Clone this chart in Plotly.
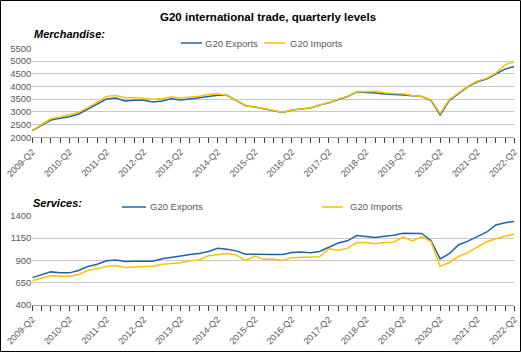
import plotly.graph_objects as go

# ---------------- data ----------------
years = list(range(2009, 2023))
quarters = []
for y in years:
    for q in ["Q1", "Q2", "Q3", "Q4"]:
        quarters.append(f"{y}-{q}")
quarters = quarters[1:quarters.index("2022-Q2") + 1]  # 2009-Q2 .. 2022-Q2

merch_exports = [2260, 2480, 2680, 2750, 2810, 2915, 3115, 3320, 3505, 3545,
                 3430, 3455, 3455, 3390, 3430, 3520, 3470, 3510, 3550, 3615,
                 3655, 3650, 3450, 3240, 3190, 3125, 3060, 2980, 3070, 3110,
                 3150, 3265, 3355, 3485, 3600, 3785, 3770, 3745, 3705, 3695,
                 3665, 3630, 3600, 3450, 2880, 3450, 3705, 3990, 4185, 4290,
                 4485, 4680, 4785]
merch_imports = [2275, 2510, 2730, 2800, 2880, 2980, 3170, 3400, 3610, 3640,
                 3560, 3565, 3545, 3500, 3530, 3580, 3550, 3580, 3615, 3680,
                 3715, 3645, 3455, 3230, 3195, 3130, 3065, 2985, 3075, 3115,
                 3160, 3280, 3370, 3500, 3620, 3800, 3790, 3815, 3750, 3725,
                 3710, 3640, 3605, 3480, 2940, 3490, 3740, 4010, 4210, 4320,
                 4525, 4850, 4980]
serv_exports = [705, 737, 770, 760, 759, 785, 830, 856, 896, 904,
                886, 889, 889, 889, 918, 937, 948, 965, 978, 1000,
                1037, 1026, 1007, 970, 967, 967, 967, 967, 989, 993,
                985, 1000, 1044, 1096, 1120, 1180, 1168, 1157, 1172, 1183,
                1205, 1204, 1204, 1124, 917, 976, 1076, 1117, 1165, 1217,
                1298, 1324, 1339]
serv_imports = [671, 700, 730, 722, 722, 741, 789, 804, 830, 841,
                819, 826, 833, 833, 856, 867, 874, 895, 904, 952,
                963, 978, 959, 900, 948, 911, 911, 900, 930, 933,
                941, 941, 1030, 1015, 1035, 1100, 1100, 1087, 1102, 1105,
                1165, 1120, 1165, 1113, 832, 876, 946, 987, 1050, 1109,
                1143, 1172, 1198]

merch_ticks = [2000, 2500, 3000, 3500, 4000, 4500, 5000, 5500]
serv_ticks = [400, 650, 900, 1150, 1400]
series_names = ["G20 Exports", "G20 Imports"]

# ---------------- style ----------------
W, H = 521, 352
BLUE = "#1F64A6"
YELLOW = "#FFC000"
GRID = "#C8C8C8"
TXT = "#595959"
FONT = "Liberation Sans, Arial, sans-serif"


def px(x):
    return x / W


def py(y):
    return 1 - y / H


idx = list(range(len(quarters)))
ticktext = [q if q.endswith("Q2") and (i % 4 == 0) else "" for i, q in enumerate(quarters)]

fig = go.Figure()
fig.add_trace(go.Scatter(x=idx, y=merch_exports, mode="lines", name=series_names[0],
                         line=dict(color=BLUE, width=1.5), xaxis="x", yaxis="y", showlegend=False))
fig.add_trace(go.Scatter(x=idx, y=merch_imports, mode="lines", name=series_names[1],
                         line=dict(color=YELLOW, width=1.5), xaxis="x", yaxis="y", showlegend=False))
fig.add_trace(go.Scatter(x=idx, y=serv_exports, mode="lines", name=series_names[0],
                         line=dict(color=BLUE, width=1.5), xaxis="x2", yaxis="y2", showlegend=False))
fig.add_trace(go.Scatter(x=idx, y=serv_imports, mode="lines", name=series_names[1],
                         line=dict(color=YELLOW, width=1.5), xaxis="x2", yaxis="y2", showlegend=False))

xdom = [px(32.3), px(514.3)]
xcommon = dict(domain=xdom, range=[0, len(quarters) - 1], tickmode="array",
               tickvals=idx, ticktext=ticktext, tickangle=-45, ticks="outside",
               ticklen=5, tickwidth=1, tickcolor="#404040", showline=True,
               linecolor="#A6A6A6", linewidth=1, showgrid=False, zeroline=False,
               automargin=False,
               tickfont=dict(family=FONT, size=9, color=TXT), fixedrange=True)
ycommon = dict(showgrid=True, gridcolor=GRID, gridwidth=1, zeroline=False,
               showline=False, ticks="", automargin=False,
               tickfont=dict(family=FONT, size=9.5, color=TXT), fixedrange=True)

fig.update_layout(
    width=W, height=H, autosize=False,
    margin=dict(l=0, r=0, t=0, b=0, pad=0),
    paper_bgcolor="white", plot_bgcolor="white",
    xaxis=dict(**xcommon, anchor="y"),
    yaxis=dict(**ycommon, domain=[py(137.3), py(48.3)], range=[2000, 5500],
               tickmode="array", tickvals=merch_ticks, anchor="x"),
    xaxis2=dict(**xcommon, anchor="y2"),
    yaxis2=dict(**ycommon, domain=[py(304.7), py(216)], range=[400, 1400],
                tickmode="array", tickvals=serv_ticks, anchor="x2"),
    font=dict(family=FONT),
)

annotations = [
    dict(text="<b>G20 international trade, quarterly levels</b>", x=px(267.5), y=py(17),
         xanchor="center", yanchor="middle", font=dict(family=FONT, size=11.5, color="black")),
    dict(text="<b><i>Merchandise:</i></b>", x=px(32), y=py(34), xanchor="left", yanchor="middle",
         font=dict(family=FONT, size=11, color="black")),
    dict(text="<b><i>Services:</i></b>", x=px(31), y=py(202.5), xanchor="left", yanchor="middle",
         font=dict(family=FONT, size=11, color="black")),
]
shapes = []

# manual legends: (line x0, line x1, text x, y, name index, color)
legend_items = [
    (181, 202, 203, 43, 0, BLUE),
    (264, 285, 288, 43, 1, YELLOW),
    (122, 146, 147.5, 207, 0, BLUE),
    (322, 343, 347.5, 207, 1, YELLOW),
]
for x0, x1, tx, yy, ni, col in legend_items:
    shapes.append(dict(type="line", xref="paper", yref="paper", x0=px(x0), x1=px(x1),
                       y0=py(yy), y1=py(yy), line=dict(color=col, width=1.5)))
    annotations.append(dict(text=series_names[ni], x=px(tx), y=py(yy), xanchor="left",
                            yanchor="middle", showarrow=False,
                            font=dict(family=FONT, size=9.5, color=TXT)))

for a in annotations:
    a.setdefault("showarrow", False)
    a["xref"] = "paper"
    a["yref"] = "paper"

# outer frame
shapes.append(dict(type="rect", xref="paper", yref="paper", x0=px(0.5), x1=px(520.5),
                   y0=py(351.5), y1=py(0.5), line=dict(color="black", width=1)))

fig.update_layout(annotations=annotations, shapes=shapes)
fig.write_html("out.html")
